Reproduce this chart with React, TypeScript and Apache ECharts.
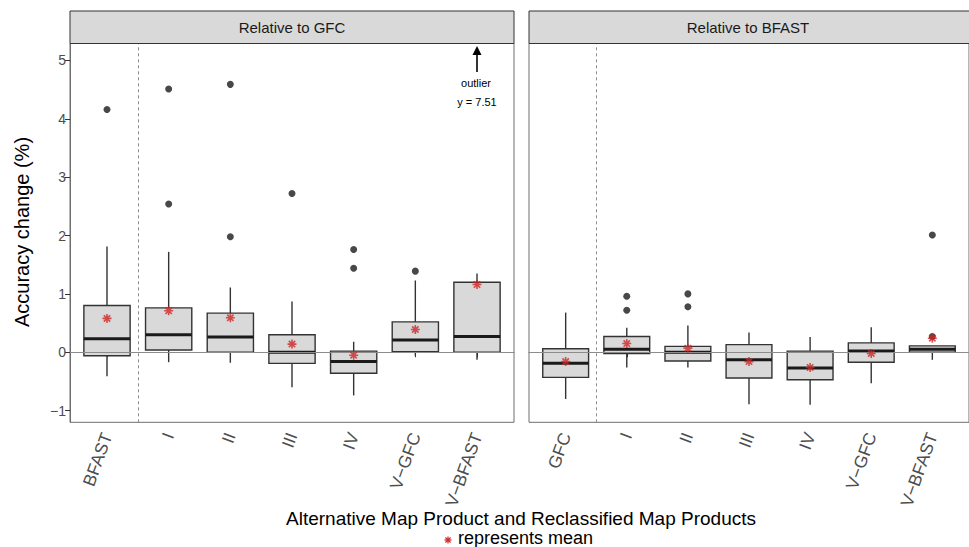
import React, { useEffect, useRef } from 'react';
import * as echarts from 'echarts';

const categoriesGFC = ['BFAST', 'I', 'II', 'III', 'IV', 'V−GFC', 'V−BFAST'];
const categoriesBFAST = ['GFC', 'I', 'II', 'III', 'IV', 'V−GFC', 'V−BFAST'];
const panelTitles = ['Relative to GFC', 'Relative to BFAST'];
const yTicks = [-1, 0, 1, 2, 3, 4, 5];
const xPositions = [1, 2, 3, 4, 5, 6, 7];

// [lower whisker, Q1, median, Q3, upper whisker]
const boxesGFC = [
  [-0.41, -0.06, 0.23, 0.8, 1.81],
  [-0.17, 0.04, 0.3, 0.76, 1.72],
  [-0.18, 0.0, 0.26, 0.67, 1.11],
  [-0.6, -0.19, 0.0, 0.3, 0.87],
  [-0.74, -0.36, -0.16, 0.02, 0.18],
  [-0.06, 0.01, 0.21, 0.52, 1.23],
  [-0.13, 0.0, 0.27, 1.2, 1.35],
];
const meansGFC = [0.58, 0.71, 0.59, 0.14, -0.05, 0.39, 1.16];
const outliersGFC = [
  [1, 4.16], [2, 4.51], [2, 2.54], [3, 4.59], [3, 1.98], [4, 2.72],
  [5, 1.76], [5, 1.44], [6, 1.39], [7, 7.51],
];

const boxesBFAST = [
  [-0.8, -0.43, -0.19, 0.06, 0.68],
  [-0.26, -0.02, 0.05, 0.27, 0.42],
  [-0.26, -0.15, 0.0, 0.1, 0.46],
  [-0.89, -0.44, -0.13, 0.13, 0.34],
  [-0.9, -0.47, -0.27, 0.02, 0.26],
  [-0.53, -0.17, 0.02, 0.16, 0.43],
  [-0.13, 0.0, 0.05, 0.11, 0.11],
];
const meansBFAST = [-0.16, 0.15, 0.07, -0.16, -0.26, -0.02, 0.24];
const outliersBFAST = [[2, 0.96], [2, 0.72], [3, 1.0], [3, 0.78], [7, 0.27], [7, 2.01]];

const outlierNote = ['outlier', 'y = 7.51'];

const FONT = '"Liberation Sans", Arial, Helvetica, sans-serif';
const RED = '#cf2424';
const ASTERISK = 'path://M0,-5L0,5M-5,0L5,0M-3.54,-3.54L3.54,3.54M-3.54,3.54L3.54,-3.54';

const PANEL_TOP = 43.5;
const PANEL_H = 378.8;
const PANEL_W = 444;
const PANEL_LEFTS = [70, 529];

function App() {
  const ref = useRef<HTMLDivElement>(null);
  useEffect(() => {
    if (!ref.current) return;
    const chart = echarts.init(ref.current, undefined, { renderer: 'svg' });

    const panels = [
      { cats: categoriesGFC, boxes: boxesGFC, means: meansGFC, outliers: outliersGFC },
      { cats: categoriesBFAST, boxes: boxesBFAST, means: meansBFAST, outliers: outliersBFAST },
    ];

    const grids = PANEL_LEFTS.map((left) => ({
      left, top: PANEL_TOP, width: PANEL_W, height: PANEL_H,
      show: true, borderColor: '#6e6e6e', borderWidth: 1, backgroundColor: '#fff',
    }));

    const xAxes = panels.map((p, i) => ({
      type: 'value', gridIndex: i, min: 0.4, max: 7.6,
      splitLine: { show: false },
      axisLine: { show: true, lineStyle: { color: '#6e6e6e' } },
      axisTick: { show: true, customValues: xPositions, length: 5, lineStyle: { color: '#333' } },
      axisLabel: {
        customValues: xPositions, rotate: 70, fontSize: 17.5, color: '#4d4d4d', fontFamily: FONT, margin: 11,
        formatter: (v: number) => p.cats[Math.round(v) - 1],
      },
    }));

    const yAxes = panels.map((p, i) => ({
      type: 'value', gridIndex: i, min: -1.2, max: 5.29,
      splitLine: { show: false },
      axisLine: { show: i === 0, lineStyle: { color: '#6e6e6e' } },
      axisTick: { show: i === 0, customValues: yTicks, length: 5, lineStyle: { color: '#333' } },
      axisLabel: {
        show: i === 0, customValues: yTicks, fontSize: 14, color: '#4d4d4d', fontFamily: FONT, margin: 4,
        formatter: (v: number) => String(v).replace('-', '−'),
      },
    }));

    const series: any[] = [];
    panels.forEach((p, i) => {
      const markLineData: any[] = [
        { yAxis: 0, lineStyle: { color: '#8c8c8c', width: 1, type: 'solid' } },
        { xAxis: 1.5, lineStyle: { color: '#8c8c8c', width: 1, type: [3, 3] } },
      ];
      if (i === 0) {
        markLineData.push([
          { coord: [7, 4.8], lineStyle: { color: '#000', width: 1.6, type: 'solid' }, symbol: 'none' },
          { coord: [7, 5.17], symbol: 'triangle', symbolSize: [9, 9] },
        ]);
      }
      series.push({
        type: 'scatter', xAxisIndex: i, yAxisIndex: i, data: [], z: 1,
        markLine: { silent: true, symbol: ['none', 'none'], label: { show: false }, data: markLineData, animation: false },
      });
      series.push({
        type: 'custom', xAxisIndex: i, yAxisIndex: i, z: 3,
        data: p.boxes.map((b, k) => [xPositions[k], ...b]),
        encode: { x: 0, y: [1, 2, 3, 4, 5] },
        renderItem: (params: any, api: any) => {
          const x = api.value(0);
          const lo = api.coord([x, api.value(1)]);
          const q1 = api.coord([x, api.value(2)]);
          const md = api.coord([x, api.value(3)]);
          const q3 = api.coord([x, api.value(4)]);
          const hi = api.coord([x, api.value(5)]);
          const w = api.size([0.75, 0])[0];
          const cx = lo[0];
          const ls = { stroke: '#333', lineWidth: 1.4 };
          return {
            type: 'group',
            children: [
              { type: 'line', shape: { x1: cx, y1: hi[1], x2: cx, y2: q3[1] }, style: ls },
              { type: 'line', shape: { x1: cx, y1: q1[1], x2: cx, y2: lo[1] }, style: ls },
              { type: 'rect', shape: { x: cx - w / 2, y: q3[1], width: w, height: q1[1] - q3[1] }, style: { fill: '#d9d9d9', stroke: '#333', lineWidth: 1.4 } },
              { type: 'line', shape: { x1: cx - w / 2, y1: md[1], x2: cx + w / 2, y2: md[1] }, style: { stroke: '#1a1a1a', lineWidth: 3 } },
            ],
          };
        },
      });
      series.push({
        type: 'scatter', xAxisIndex: i, yAxisIndex: i, z: 4, clip: true,
        data: p.outliers, symbol: 'circle', symbolSize: 7,
        itemStyle: { color: '#1a1a1a' },
      });
      series.push({
        type: 'scatter', xAxisIndex: i, yAxisIndex: i, z: 5,
        data: p.means.map((m, k) => [xPositions[k], m]), symbol: ASTERISK, symbolSize: 9,
        itemStyle: { color: 'transparent', borderColor: RED, borderWidth: 1.6 },
      });
    });

    const graphics: any[] = [];
    PANEL_LEFTS.forEach((left, i) => {
      graphics.push({
        type: 'rect', shape: { x: left, y: 11, width: PANEL_W, height: PANEL_TOP - 11 },
        style: { fill: '#d9d9d9', stroke: '#333', lineWidth: 1 }, z: 10,
      });
      graphics.push({
        type: 'text', x: left + PANEL_W / 2 - (i === 1 ? 3 : 0), y: (11 + PANEL_TOP) / 2,
        style: { text: panelTitles[i], fontSize: 15, fontFamily: FONT, fill: '#1a1a1a', align: 'center', verticalAlign: 'middle' }, z: 11,
      });
    });
    graphics.push({
      type: 'text', x: 476, y: 82.7,
      style: { text: outlierNote[0], fontSize: 11, fontFamily: FONT, fill: '#000', align: 'center', verticalAlign: 'middle' },
    });
    graphics.push({
      type: 'text', x: 477, y: 101.7,
      style: { text: outlierNote[1], fontSize: 11, fontFamily: FONT, fill: '#000', align: 'center', verticalAlign: 'middle' },
    });
    graphics.push({
      type: 'text', x: 22, y: 232, rotation: Math.PI / 2,
      style: { text: 'Accuracy change (%)', fontSize: 20, fontFamily: FONT, fill: '#000', align: 'center', verticalAlign: 'middle' },
    });
    graphics.push({
      type: 'text', x: 521, y: 518.5,
      style: { text: 'Alternative Map Product and Reclassified Map Products', fontSize: 19, fontFamily: FONT, fill: '#000', align: 'center', verticalAlign: 'middle' },
    });
    graphics.push({
      type: 'text', x: 458, y: 537.5,
      style: { text: 'represents mean', fontSize: 18, fontFamily: FONT, fill: '#000', align: 'left', verticalAlign: 'middle' },
    });
    const ax = 448, ay = 540, r = 3.6, d = r * 0.707;
    [[0, -r, 0, r], [-r, 0, r, 0], [-d, -d, d, d], [-d, d, d, -d]].forEach(([x1, y1, x2, y2]) => {
      graphics.push({ type: 'line', shape: { x1: ax + x1, y1: ay + y1, x2: ax + x2, y2: ay + y2 }, style: { stroke: RED, lineWidth: 1.2 } });
    });

    chart.setOption({
      animation: false,
      backgroundColor: '#fff',
      grid: grids,
      xAxis: xAxes,
      yAxis: yAxes,
      series,
      graphic: graphics,
    });
    return () => chart.dispose();
  }, []);
  return <div ref={ref} style={{ position: 'fixed', left: 0, top: 0, width: 969, height: 547 }} />;
}

export default App;
